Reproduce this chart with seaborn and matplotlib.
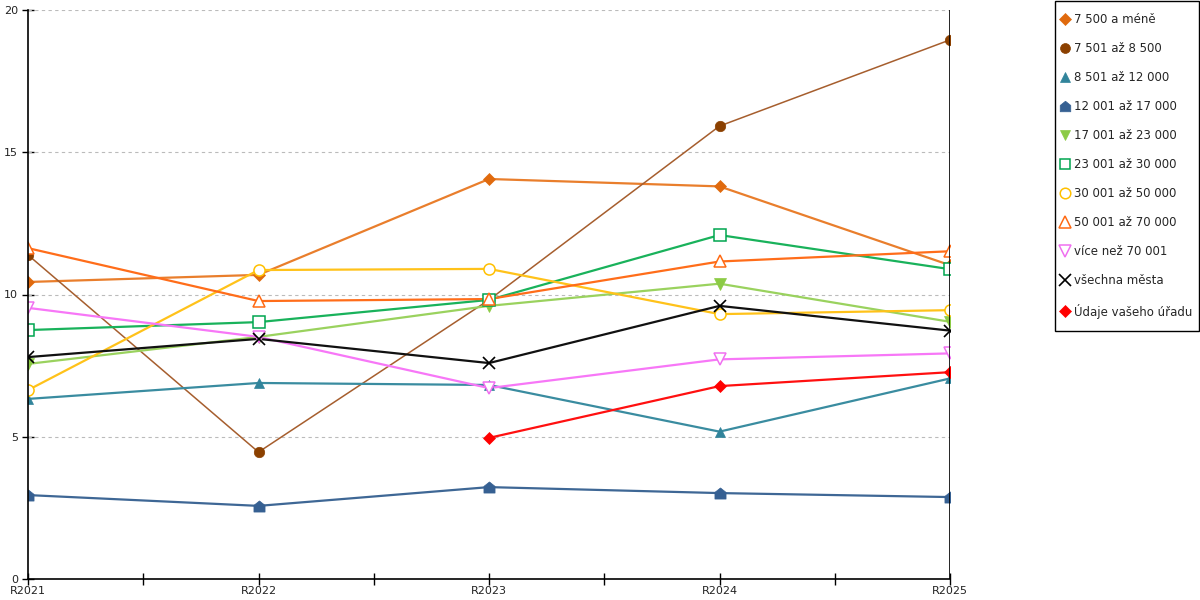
import matplotlib
matplotlib.use("Agg")
import matplotlib.pyplot as plt
from matplotlib.lines import Line2D
from matplotlib.path import Path
from matplotlib.patches import Rectangle
from matplotlib.ticker import MultipleLocator, FixedLocator
import seaborn as sns
import pandas as pd
import numpy as np

years = ["R2021", "R2022", "R2023", "R2024", "R2025"]

s_7500 = [10.44, 10.69, 14.06, 13.80, 11.03]
s_8500 = [11.39, 4.46, 9.81, 15.92, 18.95]
s_12000 = [6.33, 6.89, 6.82, 5.18, 7.05]
s_17000 = [2.95, 2.57, 3.23, 3.02, 2.88]
s_23000 = [7.56, 8.51, 9.60, 10.38, 9.04]
s_30000 = [8.75, 9.03, 9.81, 12.09, 10.89]
s_50000 = [6.64, 10.86, 10.90, 9.31, 9.45]
s_70000 = [11.63, 9.77, 9.84, 11.16, 11.52]
s_vice = [9.53, 8.51, 6.71, 7.72, 7.93]
s_vse = [7.80, 8.44, 7.59, 9.60, 8.73]
s_urad = [None, None, 4.96, 6.78, 7.27]

names = ["7 500 a méně", "7 501 až 8 500", "8 501 až 12 000", "12 001 až 17 000",
         "17 001 až 23 000", "23 001 až 30 000", "30 001 až 50 000", "50 001 až 70 000",
         "více než 70 001", "všechna města", "Údaje vašeho úřadu"]
values = [s_7500, s_8500, s_12000, s_17000, s_23000, s_30000, s_50000, s_70000,
          s_vice, s_vse, s_urad]

house = Path([(-1, -1), (1, -1), (1, 0.2), (0, 1), (-1, 0.2), (-1, -1)],
             [Path.MOVETO, Path.LINETO, Path.LINETO, Path.LINETO, Path.LINETO, Path.CLOSEPOLY])

# (line color, marker color, marker, filled, marker size, line width)
styles = [
    ("#E97E2C", "#E06A0E", "D", True, 6, 1.6),
    ("#A65E2E", "#8B4000", "o", True, 7.5, 1.1),
    ("#3A8CA0", "#31849B", "^", True, 7.5, 1.6),
    ("#3E6795", "#366092", house, True, 8, 1.6),
    ("#9AD25E", "#8CCB45", "v", True, 8, 1.6),
    ("#19B25B", "#00A550", "s", False, 8, 1.6),
    ("#FFC21A", "#FFC000", "o", False, 8, 1.6),
    ("#FF6D1A", "#FF6A13", "^", False, 9, 1.6),
    ("#F777F7", "#F070F0", "v", False, 9, 1.6),
    ("#111111", "#000000", "x", True, 9, 1.6),
    ("#FF1010", "#FF0000", "D", True, 6, 1.6),
]

sns.set_style("white")
plt.rcParams["font.family"] = ["DejaVu Sans"]

fig = plt.figure(figsize=(12, 6), dpi=100)
ax = fig.add_axes([28 / 1200, 21 / 600, (950 - 28) / 1200, (579 - 10) / 600])

handles = []
for name, vals, (lc, mc, mk, filled, ms, lw) in zip(names, values, styles):
    df = pd.DataFrame({"x": np.arange(len(years)), "y": [np.nan if v is None else v for v in vals]})
    df = df.dropna()
    sns.lineplot(data=df, x="x", y="y", ax=ax, color=lc, linewidth=lw, legend=False,
                 zorder=3)
    fc = mc if filled else "white"
    mew = 1.1 if not filled else (1.2 if mk == "x" else 0.5)
    ax.plot(df["x"], df["y"], linestyle="none", marker=mk, markersize=ms,
            markerfacecolor=fc, markeredgecolor=mc, markeredgewidth=mew, zorder=4)
    handles.append(Line2D([], [], linestyle="none", marker=mk, markersize=ms * 0.95,
                          markerfacecolor=fc, markeredgecolor=mc, markeredgewidth=mew,
                          label=name))

ax.set_xlim(0, 4)
ax.set_ylim(0, 20)
ax.set_xticks(range(len(years)))
ax.set_xticklabels(years)
ax.xaxis.set_minor_locator(FixedLocator([0.5, 1.5, 2.5, 3.5]))
ax.yaxis.set_major_locator(MultipleLocator(5))
ax.set_xlabel("")
ax.set_ylabel("")

for y in [5, 10, 15, 20]:
    ax.axhline(y, color="#BBBBBB", linestyle=(0, (3, 3)), linewidth=0.8, zorder=1)

for side in ["top", "right"]:
    ax.spines[side].set_visible(False)
for side in ["left", "bottom"]:
    ax.spines[side].set_color("black")
    ax.spines[side].set_linewidth(1.2)
    ax.spines[side].set_zorder(5)

ax.tick_params(axis="both", which="both", bottom=True, left=True)
ax.tick_params(axis="both", which="major", direction="inout", length=8, width=1,
               color="black", labelsize=8, pad=1, labelcolor="#222222")
ax.tick_params(axis="x", which="minor", direction="inout", length=8, width=1, color="black")
ax.tick_params(axis="y", which="major", pad=3)
ax.tick_params(axis="y", which="minor", length=0)

# Vertical line at the last category (right edge in reference)
ax.axvline(4, color="black", linewidth=1.2, zorder=5)

# Legend box drawn separately so its size matches the reference
fig.patches.append(Rectangle((1054.5 / 1200, (600 - 330.5) / 600), 144.5 / 1200, 329.5 / 600,
                             transform=fig.transFigure, fill=False, edgecolor="black",
                             linewidth=1.0))
leg = fig.legend(handles=handles, loc="upper left",
                 bbox_to_anchor=(1059 / 1200, (600 - 13) / 600),
                 frameon=False, fontsize=8.5, labelspacing=1.36, handletextpad=0.3,
                 handlelength=1.0, borderpad=0, borderaxespad=0)

fig.savefig("out.png", dpi=100)
